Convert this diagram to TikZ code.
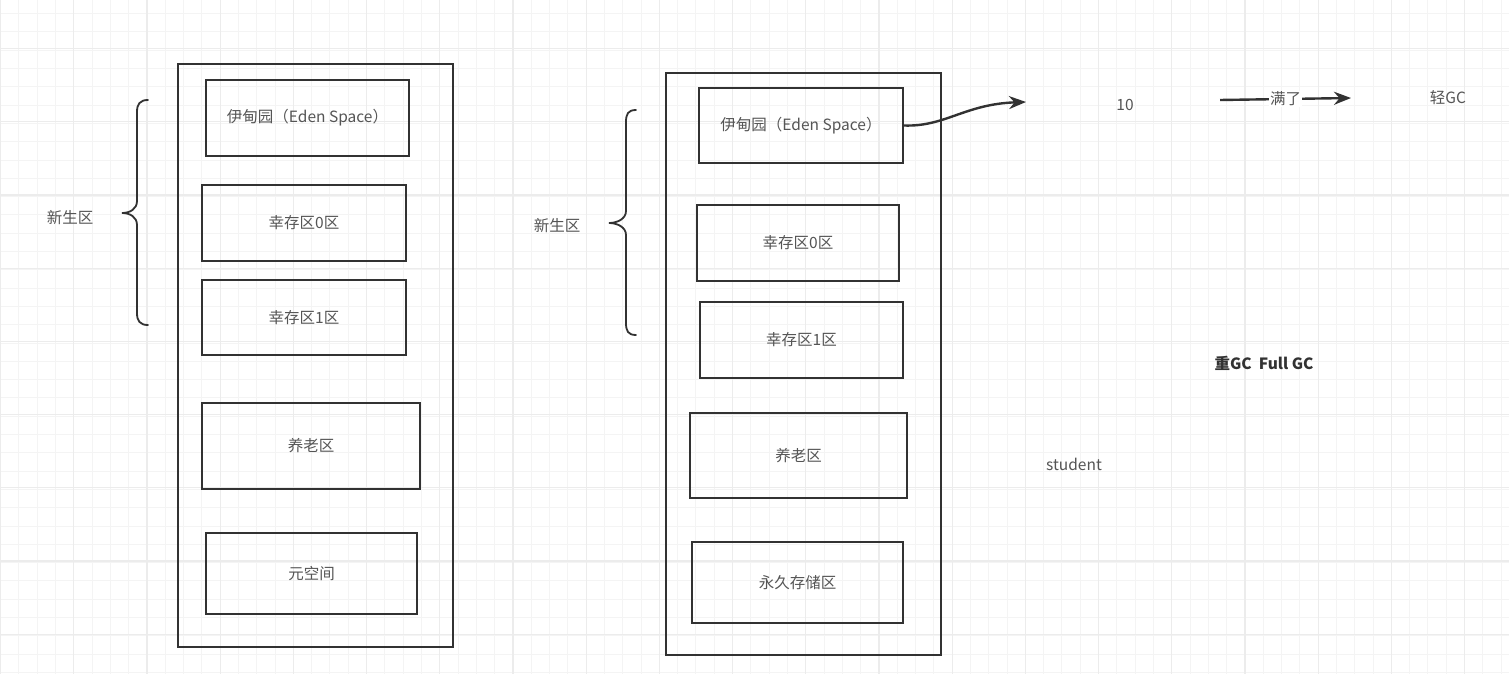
\documentclass[tikz,border=0pt]{standalone}
\usepackage{fontspec}
\setmainfont{Noto Sans CJK SC}
\usetikzlibrary{arrows.meta}
\definecolor{gridminor}{RGB}{244,244,244}
\definecolor{gridmajor}{RGB}{236,236,236}
\definecolor{ink}{RGB}{50,50,50}
\definecolor{txt}{RGB}{85,85,85}

\begin{document}
\begin{tikzpicture}[x=1pt,y=-1pt,
  zone/.style={draw=ink,line width=2pt,inner sep=0pt,font=\fontsize{15.5}{18}\selectfont,text=txt},
  heap/.style={draw=ink,line width=2pt,inner sep=0pt},
  note/.style={font=\fontsize{15.5}{18}\selectfont,text=txt},
  brace/.style={draw=ink,line width=1.8pt,line cap=round},
  flow/.style={draw=ink,line width=2.4pt,-{Stealth[length=17pt,width=13pt]}}]
  \useasboundingbox (0,0) rectangle (1509,674);
  \fill[white] (0,0) rectangle (1509,674);
  % grid paper
  \foreach \gx in {0,...,82} \draw[gridminor,line width=1pt] ({0.5+18.3*\gx},0) -- ++(0,674);
  \foreach \gy in {0,...,37} \draw[gridminor,line width=1pt] (0,{13.6+18.3*\gy}) -- ++(1509,0);
  \foreach \gx in {0,...,20} \draw[gridmajor,line width=1.2pt] ({0.5+73.2*\gx},0) -- ++(0,674);
  \foreach \gy in {0,...,9} \draw[gridmajor,line width=1.2pt] (0,{48.6+73.2*\gy}) -- ++(1509,0);

  % left heap
  \node[heap,minimum width=275,minimum height=583] (heapA) at (315.5,355.5) {};
  \node[zone,minimum width=203,minimum height=76] (edenA) at (307.5,118) {伊甸园（Eden Space）};
  \node[zone,minimum width=204,minimum height=76] (survA) at (304,223) {幸存区0区};
  \node[zone,minimum width=204,minimum height=75] (survB) at (304,317.5) {幸存区1区};
  \node[zone,minimum width=218,minimum height=86] (oldA) at (311,446) {养老区};
  \node[zone,minimum width=211,minimum height=81] (metaA) at (311.5,573.5) {元空间};
  \draw[brace] (148,100) .. controls (140,100) and (137,104) .. (137,112) -- (137,201)
    .. controls (137,209) and (130,213) .. (122,213) .. controls (130,213) and (137,217) .. (137,225)
    -- (137,313) .. controls (137,321) and (140,325) .. (148,325);
  \node[note] (youngA) at (70,218) {新生区};

  % right heap
  \node[heap,minimum width=275,minimum height=582] (heapB) at (803.5,364) {};
  \node[zone,minimum width=204,minimum height=75] (edenB) at (801,125.5) {伊甸园（Eden Space）};
  \node[zone,minimum width=202,minimum height=76] (survC) at (798,243) {幸存区0区};
  \node[zone,minimum width=203,minimum height=76] (survD) at (801.5,340) {幸存区1区};
  \node[zone,minimum width=217,minimum height=85] (oldB) at (798.5,455.5) {养老区};
  \node[zone,minimum width=211,minimum height=81] (permB) at (797.5,582.5) {永久存储区};
  \draw[brace] (636,110) .. controls (628,110) and (626,114) .. (626,122) -- (626,211)
    .. controls (626,219) and (617,223) .. (609,223) .. controls (617,223) and (626,227) .. (626,235)
    -- (626,323) .. controls (626,331) and (628,335) .. (636,335);
  \node[note] (youngB) at (557,226) {新生区};

  % notes
  \coordinate (edenTip) at (1026,102);
  \draw[flow] (edenB.east) .. controls (945,127) and (965,104) .. (edenTip);
  \node[note] (ten) at (1125,105) {10};
  \coordinate (fullA) at (1220,100);
  \coordinate (fullB) at (1351,98);
  \draw[flow] (fullA) -- node[note,fill=white,inner sep=1pt] (full) {满了} (fullB);
  \node[note] (minor) at (1448,98) {轻GC};
  \node[note,font=\fontsize{15.5}{18}\selectfont\bfseries,text=ink] (major) at (1264,363) {重GC\ \ Full GC};
  \node[note] (student) at (1074,464) {student};
\end{tikzpicture}
\end{document}
